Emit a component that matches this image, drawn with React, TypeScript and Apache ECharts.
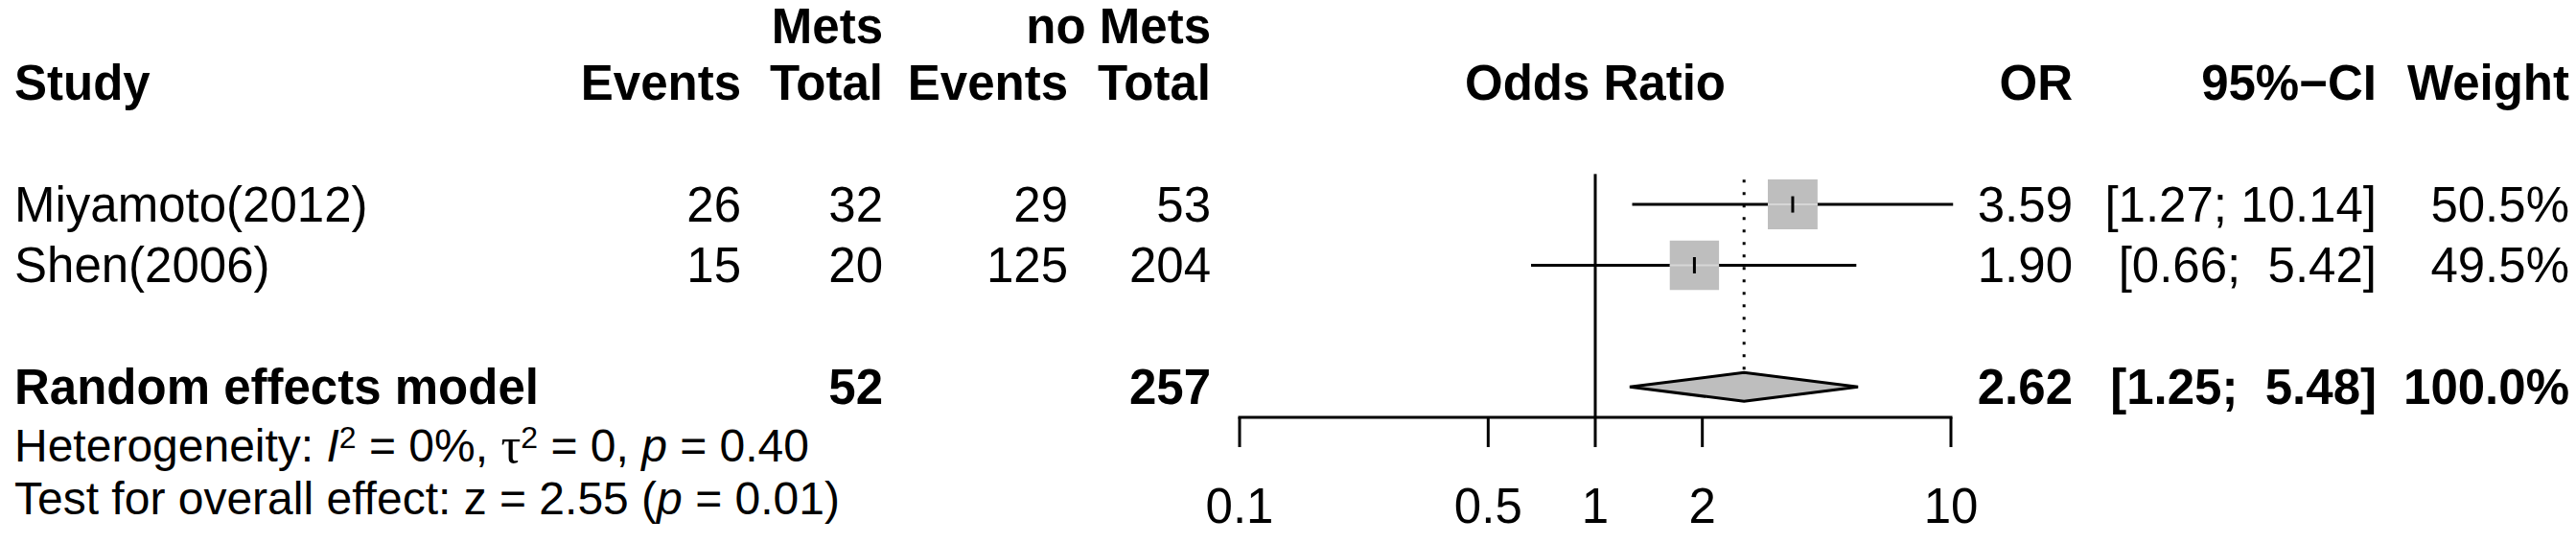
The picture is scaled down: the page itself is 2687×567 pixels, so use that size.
import { useEffect, useRef } from 'react';
import * as echarts from 'echarts';

// ---------------- data ----------------
const studies = ['Miyamoto(2012)', 'Shen(2006)'];
const metsEvents = [26, 15];
const metsTotal = [32, 20];
const noMetsEvents = [29, 125];
const noMetsTotal = [53, 204];
const oddsRatio = [3.59, 1.9];
const ciLower = [1.27, 0.66];
const ciUpper = [10.14, 5.42];
const weights = [50.5, 49.5];

const pooledLabel = 'Random effects model';
const pooledMetsTotal = 52;
const pooledNoMetsTotal = 257;
const pooledOR = 2.62;
const pooledLower = 1.25;
const pooledUpper = 5.48;
const pooledWeight = 100.0;

const groupLabels = ['Mets', 'no Mets'];
const columnLabels = ['Study', 'Events', 'Total', 'Events', 'Total', 'Odds Ratio', 'OR', '95%\u2212CI', 'Weight'];
const tickValues = [0.1, 0.5, 1, 2, 10];
const tickLabels = ['0.1', '0.5', '1', '2', '10'];
const nullValue = 1;
const hetLine = 'Heterogeneity: {it|I}{sup|2} = 0%, {tau|\u03c4}{sup|2} = 0, {it|p} = 0.40';
const testLine = 'Test for overall effect: z = 2.55 ({it|p} = 0.01)';

// ---------------- layout ----------------
const W = 2687;
const H = 567;
const FONT = '"Liberation Sans", Arial, Helvetica, sans-serif';
const FS = 51;
const HET_FS = 48;
const PLOT_LEFT = 1293;
const PLOT_WIDTH = 742;
const ROW_MIN = -3.36;
const AXIS_ROW = 3.5;
const AXIS_Y = 435;
const PX_PER_ROW = AXIS_Y / (AXIS_ROW - ROW_MIN);
const ROW_MAX_TABLE = ROW_MIN + H / PX_PER_ROW;
const ROW_HEAD1 = -2.92;
const ROW_HEAD2 = -2;
const ROW_POOLED = 3;
const ROW_HET = 3.97;
const ROW_TEST = 4.83;
const X_STUDY = 15;
const X_E_EV = 773;
const X_E_TOT = 921;
const X_C_EV = 1114;
const X_C_TOT = 1263;
const X_OR = 2162;
const X_CI = 2479;
const X_W = 2680;
const X_PLOT_MID = PLOT_LEFT + PLOT_WIDTH / 2;
const LW = 3;
const SQUARE_SCALE = 7.3;
const DIAMOND_HALF = 15;
const TICK_LEN = 31;
const TICK_LABEL_OFFSET = 92;
const GRAY = '#bebebe';

type Cell = {
  x: number;
  row: number;
  text: string;
  bold?: boolean;
  align: 'left' | 'right' | 'center';
  size?: number;
  rich?: boolean;
};

const upperWidth = Math.max(...[...ciUpper, pooledUpper].map((v) => v.toFixed(2).length));
const fmtCI = (lo: number, hi: number) => {
  const h = hi.toFixed(2);
  const pad = '\u00A0'.repeat(Math.max(0, upperWidth - h.length));
  return `[${lo.toFixed(2)}; ${pad}${h}]`;
};

function buildCells(): Cell[] {
  const cells: Cell[] = [];
  cells.push({ x: X_E_TOT, row: ROW_HEAD1, text: groupLabels[0], bold: true, align: 'right' });
  cells.push({ x: X_C_TOT, row: ROW_HEAD1, text: groupLabels[1], bold: true, align: 'right' });
  const headX = [X_STUDY, X_E_EV, X_E_TOT, X_C_EV, X_C_TOT, X_PLOT_MID, X_OR, X_CI, X_W];
  const headAlign: Cell['align'][] = ['left', 'right', 'right', 'right', 'right', 'center', 'right', 'right', 'right'];
  columnLabels.forEach((t, i) => cells.push({ x: headX[i], row: ROW_HEAD2, text: t, bold: true, align: headAlign[i] }));
  studies.forEach((s, i) => {
    const row = i;
    cells.push({ x: X_STUDY, row, text: s, align: 'left' });
    cells.push({ x: X_E_EV, row, text: String(metsEvents[i]), align: 'right' });
    cells.push({ x: X_E_TOT, row, text: String(metsTotal[i]), align: 'right' });
    cells.push({ x: X_C_EV, row, text: String(noMetsEvents[i]), align: 'right' });
    cells.push({ x: X_C_TOT, row, text: String(noMetsTotal[i]), align: 'right' });
    cells.push({ x: X_OR, row, text: oddsRatio[i].toFixed(2), align: 'right' });
    cells.push({ x: X_CI, row, text: fmtCI(ciLower[i], ciUpper[i]), align: 'right' });
    cells.push({ x: X_W, row, text: weights[i].toFixed(1) + '%', align: 'right' });
  });
  cells.push({ x: X_STUDY, row: ROW_POOLED, text: pooledLabel, bold: true, align: 'left' });
  cells.push({ x: X_E_TOT, row: ROW_POOLED, text: String(pooledMetsTotal), bold: true, align: 'right' });
  cells.push({ x: X_C_TOT, row: ROW_POOLED, text: String(pooledNoMetsTotal), bold: true, align: 'right' });
  cells.push({ x: X_OR, row: ROW_POOLED, text: pooledOR.toFixed(2), bold: true, align: 'right' });
  cells.push({ x: X_CI, row: ROW_POOLED, text: fmtCI(pooledLower, pooledUpper), bold: true, align: 'right' });
  cells.push({ x: X_W, row: ROW_POOLED, text: pooledWeight.toFixed(1) + '%', bold: true, align: 'right' });
  cells.push({ x: X_STUDY, row: ROW_HET, text: hetLine, align: 'left', size: HET_FS, rich: true });
  cells.push({ x: X_STUDY, row: ROW_TEST, text: testLine, align: 'left', size: HET_FS, rich: true });
  return cells;
}

const RICH = {
  it: { fontStyle: 'italic', fontFamily: FONT, fontSize: HET_FS, lineHeight: 50 },
  sup: { fontFamily: FONT, fontSize: 32, verticalAlign: 'top', lineHeight: 16 },
  tau: { fontFamily: '"Liberation Serif", "DejaVu Serif", serif', fontSize: HET_FS + 4, lineHeight: 50 },
};

function buildOption(): any {
  const cells = buildCells();
  return {
    animation: false,
    backgroundColor: '#ffffff',
    grid: [
      { left: 0, top: 0, width: W, height: H, show: false, containLabel: false },
      { left: PLOT_LEFT, top: 0, width: PLOT_WIDTH, height: AXIS_Y, show: false, containLabel: false },
    ],
    xAxis: [
      { gridIndex: 0, type: 'value', min: 0, max: W, show: false },
      { gridIndex: 1, type: 'log', logBase: 10, min: tickValues[0], max: tickValues[tickValues.length - 1], show: false },
    ],
    yAxis: [
      { gridIndex: 0, type: 'value', min: ROW_MIN, max: ROW_MAX_TABLE, inverse: true, show: false },
      { gridIndex: 1, type: 'value', min: ROW_MIN, max: AXIS_ROW, inverse: true, show: false },
    ],
    series: [
      // table texts
      {
        type: 'custom',
        xAxisIndex: 0,
        yAxisIndex: 0,
        clip: false,
        z: 5,
        data: cells.map((c, i) => [c.x, c.row, i]),
        renderItem: (_p: any, api: any) => {
          const c = cells[api.value(2) as number];
          const pt = api.coord([c.x, c.row]);
          return {
            type: 'text',
            x: pt[0],
            y: pt[1],
            style: {
              text: c.text,
              fill: '#000',
              fontFamily: FONT,
              fontSize: c.size ?? FS,
              fontWeight: c.bold ? 'bold' : 'normal',
              align: c.align,
              verticalAlign: 'middle',
              lineHeight: c.rich ? 50 : undefined,
              rich: c.rich ? RICH : undefined,
            },
          };
        },
      },
      // null-effect vertical line
      {
        type: 'custom',
        xAxisIndex: 1,
        yAxisIndex: 1,
        clip: false,
        z: 2,
        data: [[nullValue, -0.5, AXIS_ROW]],
        renderItem: (_p: any, api: any) => {
          const a = api.coord([api.value(0), api.value(1)]);
          const b = api.coord([api.value(0), api.value(2)]);
          return {
            type: 'line',
            shape: { x1: a[0], y1: a[1], x2: b[0], y2: b[1] },
            style: { stroke: '#000', lineWidth: LW },
          };
        },
      },
      // pooled dotted line
      {
        type: 'custom',
        xAxisIndex: 1,
        yAxisIndex: 1,
        clip: false,
        z: 2,
        data: [[pooledOR, -0.5, ROW_POOLED]],
        renderItem: (_p: any, api: any) => {
          const a = api.coord([api.value(0), api.value(1)]);
          const b = api.coord([api.value(0), api.value(2)]);
          return {
            type: 'line',
            shape: { x1: a[0], y1: a[1] + 6, x2: b[0], y2: b[1] - DIAMOND_HALF },
            style: { stroke: '#000', lineWidth: LW, lineDash: [3, 10] },
          };
        },
      },
      // study CIs and squares
      {
        type: 'custom',
        xAxisIndex: 1,
        yAxisIndex: 1,
        clip: false,
        z: 3,
        data: studies.map((_, i) => [oddsRatio[i], i, ciLower[i], ciUpper[i], weights[i]]),
        renderItem: (_p: any, api: any) => {
          const row = api.value(1);
          const c = api.coord([api.value(0), row]);
          const l = api.coord([api.value(2), row]);
          const h = api.coord([api.value(3), row]);
          const side = SQUARE_SCALE * Math.sqrt(api.value(4));
          return {
            type: 'group',
            children: [
              { type: 'line', shape: { x1: l[0], y1: c[1], x2: h[0], y2: c[1] }, style: { stroke: '#000', lineWidth: LW } },
              { type: 'rect', shape: { x: c[0] - side / 2, y: c[1] - side / 2, width: side, height: side }, style: { fill: GRAY } },
              { type: 'line', shape: { x1: c[0] - side / 2, y1: c[1], x2: c[0] + side / 2, y2: c[1] }, style: { stroke: '#d6d6d6', lineWidth: 2 } },
              { type: 'line', shape: { x1: c[0], y1: c[1] - 8.5, x2: c[0], y2: c[1] + 8.5 }, style: { stroke: '#000', lineWidth: LW } },
            ],
          };
        },
      },
      // pooled diamond
      {
        type: 'custom',
        xAxisIndex: 1,
        yAxisIndex: 1,
        clip: false,
        z: 3,
        data: [[pooledOR, ROW_POOLED, pooledLower, pooledUpper]],
        renderItem: (_p: any, api: any) => {
          const row = api.value(1);
          const c = api.coord([api.value(0), row]);
          const l = api.coord([api.value(2), row]);
          const h = api.coord([api.value(3), row]);
          return {
            type: 'polygon',
            shape: {
              points: [
                [l[0], c[1]],
                [c[0], c[1] - DIAMOND_HALF],
                [h[0], c[1]],
                [c[0], c[1] + DIAMOND_HALF],
              ],
            },
            style: { fill: GRAY, stroke: '#000', lineWidth: LW, lineJoin: 'miter' },
          };
        },
      },
      // axis line
      {
        type: 'custom',
        xAxisIndex: 1,
        yAxisIndex: 1,
        clip: false,
        z: 2,
        data: [[tickValues[0], AXIS_ROW, tickValues[tickValues.length - 1]]],
        renderItem: (_p: any, api: any) => {
          const a = api.coord([api.value(0), api.value(1)]);
          const b = api.coord([api.value(2), api.value(1)]);
          return {
            type: 'line',
            shape: { x1: a[0] - LW / 2, y1: a[1], x2: b[0] + LW / 2, y2: b[1] },
            style: { stroke: '#000', lineWidth: LW },
          };
        },
      },
      // ticks and tick labels
      {
        type: 'custom',
        xAxisIndex: 1,
        yAxisIndex: 1,
        clip: false,
        z: 2,
        data: tickValues.map((v, i) => [v, AXIS_ROW, i]),
        renderItem: (_p: any, api: any) => {
          const p = api.coord([api.value(0), api.value(1)]);
          return {
            type: 'group',
            children: [
              { type: 'line', shape: { x1: p[0], y1: p[1], x2: p[0], y2: p[1] + TICK_LEN }, style: { stroke: '#000', lineWidth: LW } },
              {
                type: 'text',
                x: p[0],
                y: p[1] + TICK_LABEL_OFFSET,
                style: {
                  text: tickLabels[api.value(2) as number],
                  fill: '#000',
                  fontFamily: FONT,
                  fontSize: FS,
                  align: 'center',
                  verticalAlign: 'middle',
                },
              },
            ],
          };
        },
      },
    ],
  };
}

export default function App() {
  const ref = useRef<HTMLDivElement>(null);
  useEffect(() => {
    if (!ref.current) return;
    const chart = echarts.init(ref.current, undefined, { renderer: 'svg', width: W, height: H });
    chart.setOption(buildOption());
    return () => chart.dispose();
  }, []);
  return (
    <div
      ref={ref}
      style={{ position: 'fixed', left: 0, top: 0, width: W + 'px', height: H + 'px', background: '#fff' }}
    />
  );
}
